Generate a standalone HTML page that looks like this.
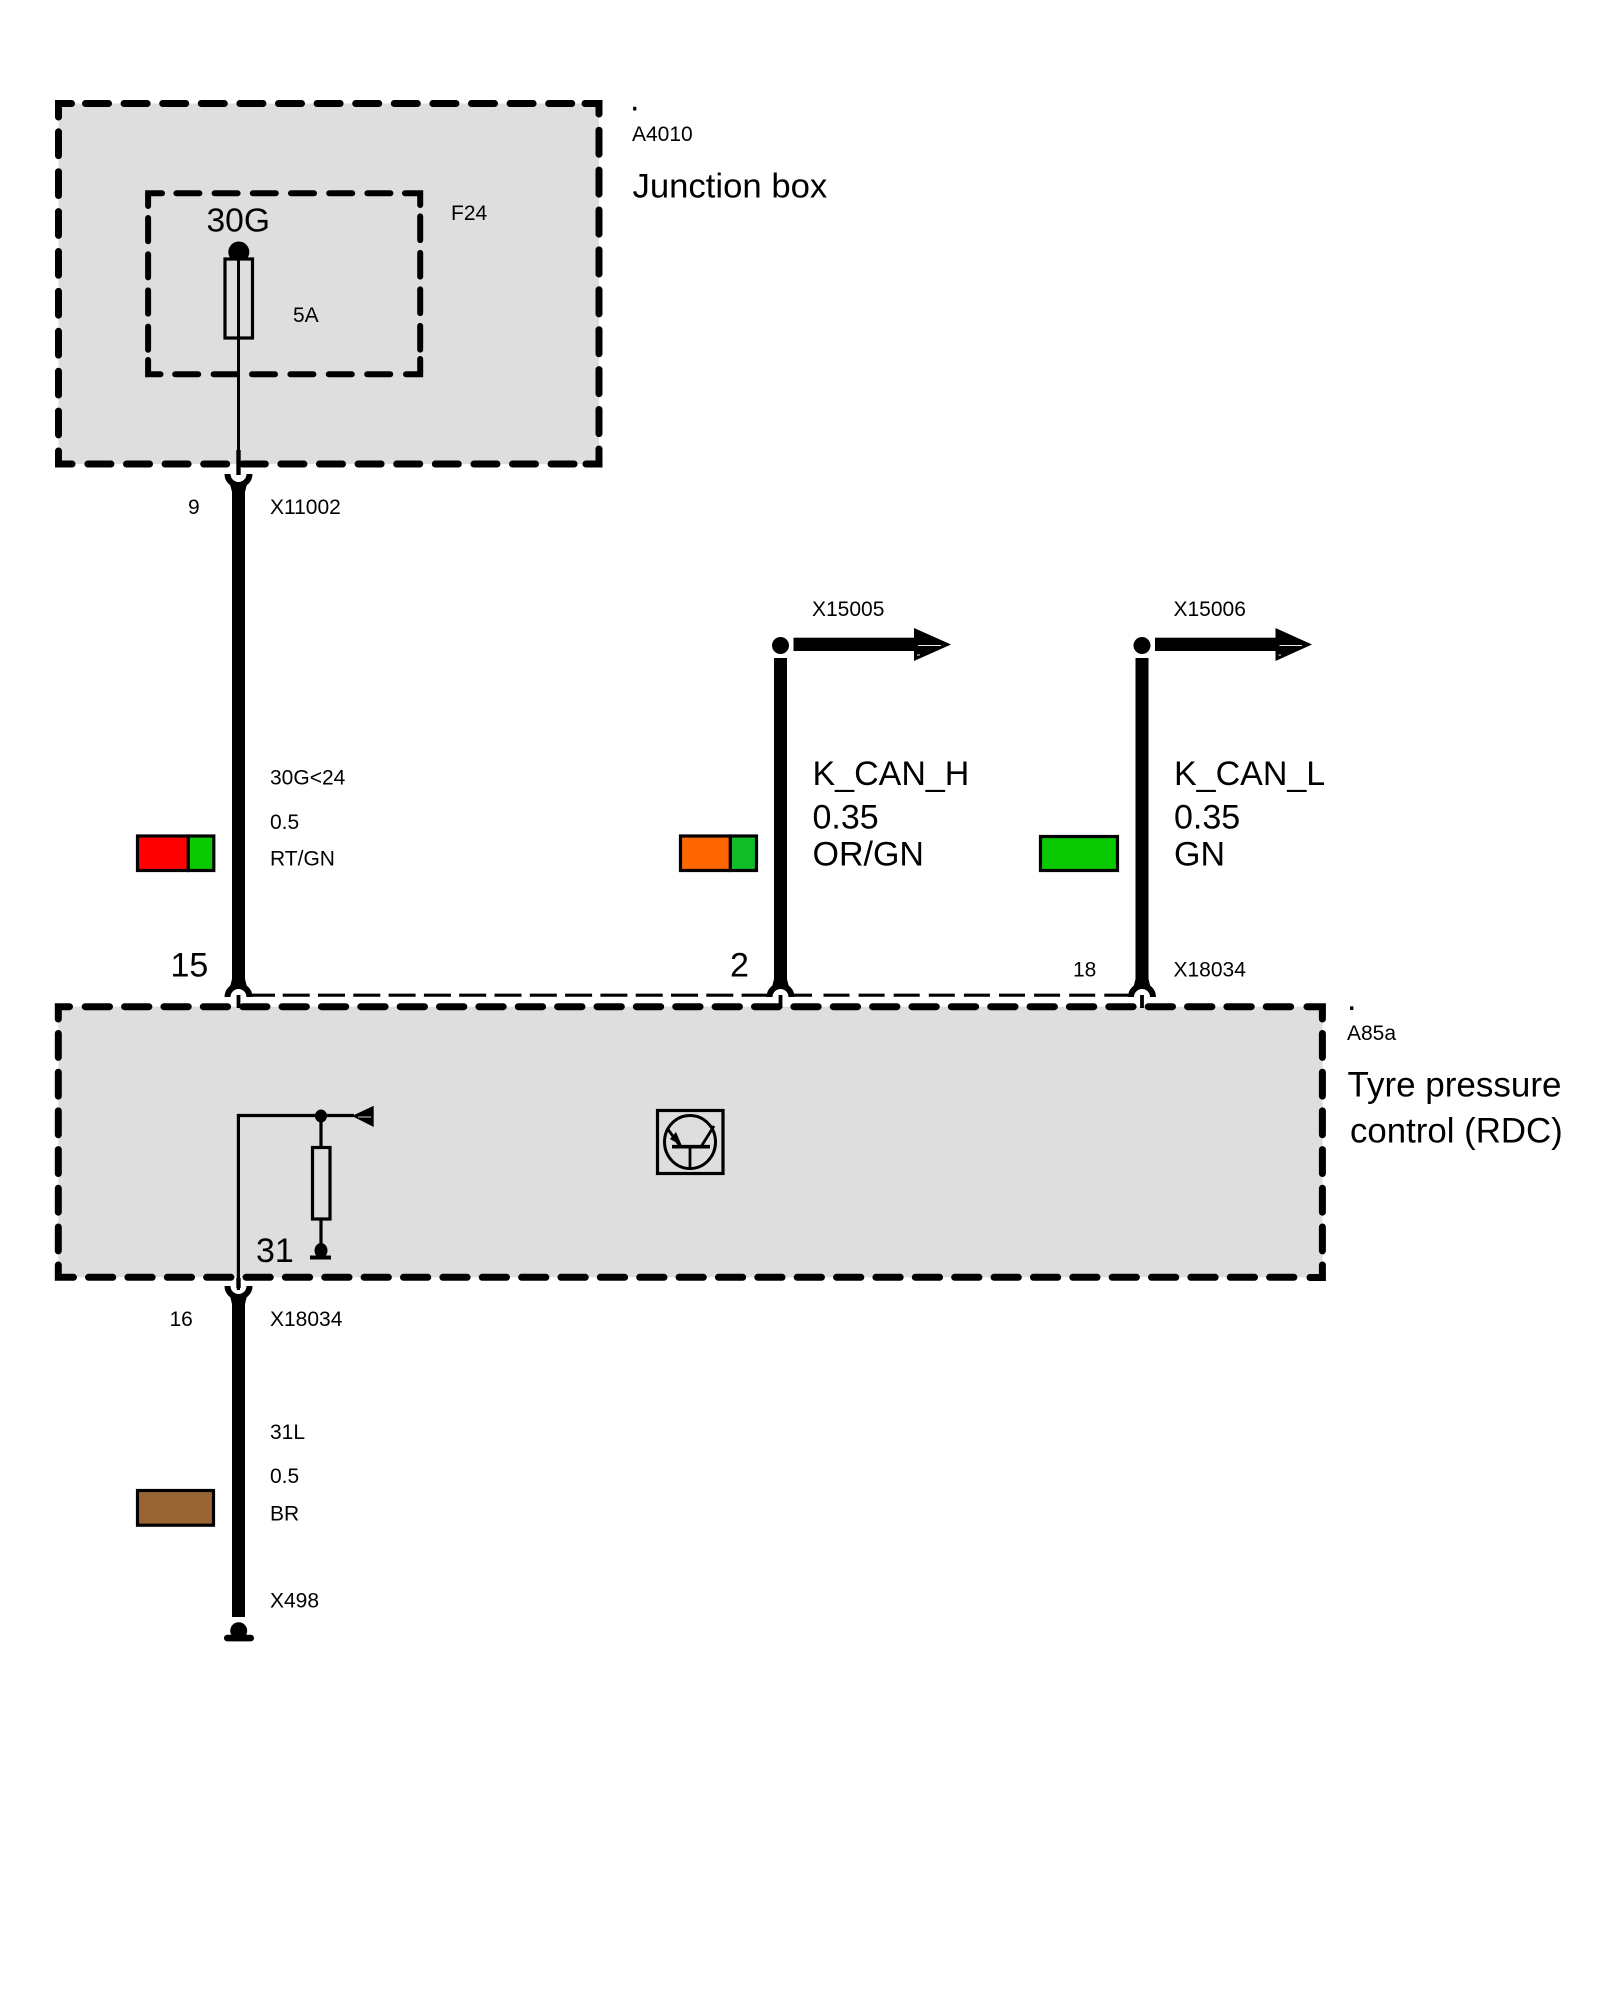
<!DOCTYPE html>
<html lang="en">
<head>
<meta charset="utf-8">
<title>Wiring diagram</title>
<style>
html,body{margin:0;padding:0;background:#fff;width:1600px;height:2000px;overflow:hidden}
svg{display:block}
text{font-family:"Liberation Sans",Arial,sans-serif;fill:#000}
.s{font-size:21px}
.l{font-size:34px}
.d{fill:none;stroke:#000;stroke-linecap:round;stroke-linejoin:miter}
</style>
</head>
<body>
<svg xmlns="http://www.w3.org/2000/svg" width="1600" height="2000" viewBox="0 0 1600 2000">
<rect width="1600" height="2000" fill="#fff"/>

<!-- Upper box -->
<rect x="58.5" y="103.5" width="540.5" height="360.5" fill="#dedede"/>
<g>
  <path class="d" d="M71.5 103.5H58.5V117" stroke-width="7"/>
  <path class="d" d="M585 103.5H599V114" stroke-width="7"/>
  <path class="d" d="M58.5 451V464H72" stroke-width="7"/>
  <path class="d" d="M599 449V464H586" stroke-width="7"/>
  <line class="d" x1="85.5" y1="103.5" x2="575" y2="103.5" stroke-width="7" stroke-dasharray="23 15.6"/>
  <line class="d" x1="87.9" y1="464" x2="575" y2="464" stroke-width="7" stroke-dasharray="23 15.6"/>
  <line class="d" x1="58.5" y1="131.8" x2="58.5" y2="440" stroke-width="7" stroke-dasharray="23.8 16.1"/>
  <line class="d" x1="599" y1="130.2" x2="599" y2="440" stroke-width="7" stroke-dasharray="24.1 15.8"/>
</g>

<!-- Inner box -->
<g>
  <path class="d" d="M162 193.3H148.1V206" stroke-width="6"/>
  <path class="d" d="M405 193.3H420.2V205" stroke-width="6"/>
  <path class="d" d="M148.1 360V374.3H160.5" stroke-width="6"/>
  <path class="d" d="M420.2 359V374.3H406" stroke-width="6"/>
  <line class="d" x1="176.4" y1="193.3" x2="396" y2="193.3" stroke-width="6" stroke-dasharray="23 15.2"/>
  <line class="d" x1="175.2" y1="374.3" x2="396" y2="374.3" stroke-width="6" stroke-dasharray="23 15.4"/>
  <line class="d" x1="148.1" y1="218" x2="148.1" y2="352" stroke-width="6" stroke-dasharray="23.2 13"/>
  <line class="d" x1="420.2" y1="216.4" x2="420.2" y2="351" stroke-width="6" stroke-dasharray="23.7 12.8"/>
</g>

<!-- Fuse -->
<circle cx="238.8" cy="252" r="10.5" fill="#000"/>
<rect x="225" y="259" width="27.5" height="79" fill="#dedede" stroke="#000" stroke-width="3.2"/>
<line x1="238.5" y1="258" x2="238.5" y2="450" stroke="#000" stroke-width="3"/>
<line x1="238.5" y1="450" x2="238.5" y2="475" stroke="#000" stroke-width="4.4"/>

<!-- Lower box -->
<rect x="58.3" y="1006.7" width="1264.2" height="270.6" fill="#dedede"/>
<path class="d" d="M69.5 1006.7H58.3V1019" stroke-width="7"/>
<path class="d" d="M1307 1006.7H1322.4V1019" stroke-width="7"/>
<path class="d" d="M58.3 1265V1277.3H73.5" stroke-width="7"/>
<path class="d" d="M1322.4 1265V1277.5H1310" stroke-width="7"/>
<line class="d" x1="85.2" y1="1006.7" x2="1295" y2="1006.7" stroke-width="7" stroke-dasharray="24.3 15.07"/>
<line class="d" x1="88.5" y1="1277.3" x2="1297" y2="1277.3" stroke-width="7" stroke-dasharray="24.3 15.07"/>
<line class="d" x1="58.3" y1="1033.5" x2="58.3" y2="1254" stroke-width="7" stroke-dasharray="23.9 14.8"/>
<line class="d" x1="1322.4" y1="1033.5" x2="1322.4" y2="1254" stroke-width="7" stroke-dasharray="23.9 14.8"/>

<!-- Thin dashed bus -->
<g stroke="#000" stroke-width="3.2" fill="none">
  <line x1="251" y1="995.2" x2="275" y2="995.2"/>
  <line x1="282.7" y1="995.2" x2="768" y2="995.2" stroke-dasharray="27 8.3"/>
  <line x1="792" y1="995.2" x2="812" y2="995.2"/>
  <line x1="823.5" y1="995.2" x2="1130.5" y2="995.2" stroke-dasharray="26 9.1"/>
</g>

<!-- Main wires -->
<g fill="#000">
  <rect x="232" y="482" width="13" height="504"/>
  <rect x="774" y="658" width="13" height="328"/>
  <rect x="1135.5" y="658" width="13" height="328"/>
  <rect x="232" y="1297" width="13" height="320"/>
</g>

<!-- Connector cups with flare -->
<g fill="none" stroke="#000" stroke-width="6">
  <path d="M227.5 474A11 11 0 0 0 249.5 474"/>
  <path d="M227.5 997A11 11 0 0 1 249.5 997"/>
  <path d="M769.5 997A11 11 0 0 1 791.5 997"/>
  <path d="M1131 997A11 11 0 0 1 1153 997"/>
  <path d="M227.5 1286A11 11 0 0 0 249.5 1286"/>
</g>
<g fill="#000">
  <polygon points="229,480 238.5,485 248,480 245,492 232,492"/>
  <polygon points="229,991 238.5,986 248,991 245,979 232,979"/>
  <polygon points="771,991 780.5,986 790,991 787,979 774,979"/>
  <polygon points="1132.5,991 1142,986 1151.5,991 1148.5,979 1135.5,979"/>
  <polygon points="229,1292 238.5,1297 248,1292 245,1304 232,1304"/>
</g>
<g stroke="#000" stroke-width="3.8">
  <line x1="238.5" y1="995" x2="238.5" y2="1008"/>
  <line x1="780.5" y1="995" x2="780.5" y2="1008"/>
  <line x1="1142" y1="995" x2="1142" y2="1008"/>
</g>

<!-- Arrow terminals -->
<g fill="#000">
  <ellipse cx="780.5" cy="645.5" rx="8.5" ry="8.5"/>
  <rect x="793.5" y="637.7" width="125" height="13.3"/>
  <polygon points="914,628 951,644.5 914,661"/>
  <ellipse cx="1142" cy="645.5" rx="8.5" ry="8.5"/>
  <rect x="1155" y="637.7" width="125" height="13.3"/>
  <polygon points="1275.5,628 1312,644.5 1275.5,661"/>
</g>
<g stroke="#e8e8e8" stroke-width="1">
  <line x1="918" y1="645.5" x2="941" y2="645.5"/>
  <line x1="917" y1="655" x2="920" y2="655"/>
  <line x1="1279.5" y1="645.5" x2="1302" y2="645.5"/>
  <line x1="1278.5" y1="655" x2="1281" y2="655"/>
</g>

<!-- Internal circuit -->
<path d="M238.4 1290V1115.5H354" fill="none" stroke="#000" stroke-width="3.2"/>
<line x1="238.5" y1="1278" x2="238.5" y2="1288" stroke="#000" stroke-width="4.4"/>
<polygon points="352,1116 373.7,1105.7 373.7,1127" fill="#000"/>
<line x1="358" y1="1117" x2="371" y2="1117" stroke="#cfcfcf" stroke-width="1"/>
<ellipse cx="321" cy="1116" rx="6" ry="6.5" fill="#000"/>
<line x1="321" y1="1116" x2="321" y2="1250" stroke="#000" stroke-width="3.2"/>
<rect x="312.5" y="1147.5" width="17.5" height="71.5" fill="#dedede" stroke="#000" stroke-width="3.2"/>
<ellipse cx="321" cy="1250.5" rx="6.5" ry="7.5" fill="#000"/>
<rect x="310" y="1255.5" width="21" height="4" fill="#000"/>

<!-- Transistor symbol -->
<rect x="657.5" y="1110.5" width="65.5" height="63" fill="#dedede" stroke="#000" stroke-width="3.2"/>
<ellipse cx="690" cy="1142" rx="25.5" ry="26.5" fill="none" stroke="#000" stroke-width="3"/>
<g stroke="#000" fill="none">
  <line x1="672" y1="1146.7" x2="710" y2="1146.7" stroke-width="3.6"/>
  <line x1="690" y1="1147" x2="690" y2="1169" stroke-width="2.8"/>
  <line x1="701.5" y1="1146" x2="714" y2="1126" stroke-width="2.8"/>
  <line x1="667" y1="1128" x2="680" y2="1146" stroke-width="2.8"/>
</g>
<polygon points="670,1139 676,1132 682,1146" fill="#000"/>

<!-- Bottom ground -->
<circle cx="238.7" cy="1630.7" r="8.5" fill="#000"/>
<rect x="224" y="1634.8" width="30" height="6.6" rx="3.3" fill="#000"/>

<!-- Colour swatches -->
<g stroke="#000" stroke-width="3.2">
  <rect x="137.5" y="836" width="50.8" height="34.5" fill="#ff0000"/>
  <rect x="188.3" y="836" width="25.5" height="34.5" fill="#0ac800"/>
  <rect x="680.5" y="836" width="49.9" height="34.5" fill="#ff6600"/>
  <rect x="730.4" y="836" width="26.1" height="34.5" fill="#12bd2a"/>
  <rect x="1040.5" y="836.5" width="77" height="34" fill="#0ac800"/>
  <rect x="137.5" y="1490.5" width="76" height="34.7" fill="#996633"/>
</g>

<!-- Labels -->
<text class="l" x="630" y="110.7">.</text>
<text class="s" x="632" y="141">A4010</text>
<text x="632.5" y="197.7" font-size="34.7">Junction box</text>
<text class="s" x="451" y="220">F24</text>
<text x="206.5" y="231.7" font-size="33.6">30G</text>
<text class="s" x="293" y="322">5A</text>
<text class="s" x="188" y="514">9</text>
<text class="s" x="270" y="514">X11002</text>

<text class="s" x="270" y="784.5">30G&lt;24</text>
<text class="s" x="270" y="829">0.5</text>
<text class="s" x="270" y="865.7">RT/GN</text>

<text class="s" x="812" y="616">X15005</text>
<text class="s" x="1173.5" y="616">X15006</text>

<text class="l" x="812.5" y="785">K_CAN_H</text>
<text class="l" x="812.5" y="828.3">0.35</text>
<text class="l" x="812.5" y="865.7">OR/GN</text>
<text class="l" x="1174" y="785">K_CAN_L</text>
<text class="l" x="1174" y="828.3">0.35</text>
<text class="l" x="1174" y="865.7">GN</text>

<text class="l" x="170.5" y="976.7">15</text>
<text class="l" x="730" y="976.7">2</text>
<text class="s" x="1073" y="976.7">18</text>
<text class="s" x="1173.5" y="976.7">X18034</text>

<text class="l" x="1347" y="1010">.</text>
<text class="s" x="1347" y="1040">A85a</text>
<text x="1347.5" y="1096.7" font-size="35">Tyre pressure</text>
<text x="1350" y="1142.7" font-size="34.8">control (RDC)</text>

<text class="l" x="256" y="1262">31</text>
<text class="s" x="169.5" y="1326">16</text>
<text class="s" x="270" y="1326">X18034</text>
<text class="s" x="270" y="1439">31L</text>
<text class="s" x="270" y="1483">0.5</text>
<text class="s" x="270" y="1520.7">BR</text>
<text class="s" x="270" y="1607.7">X498</text>
</svg>
</body>
</html>
